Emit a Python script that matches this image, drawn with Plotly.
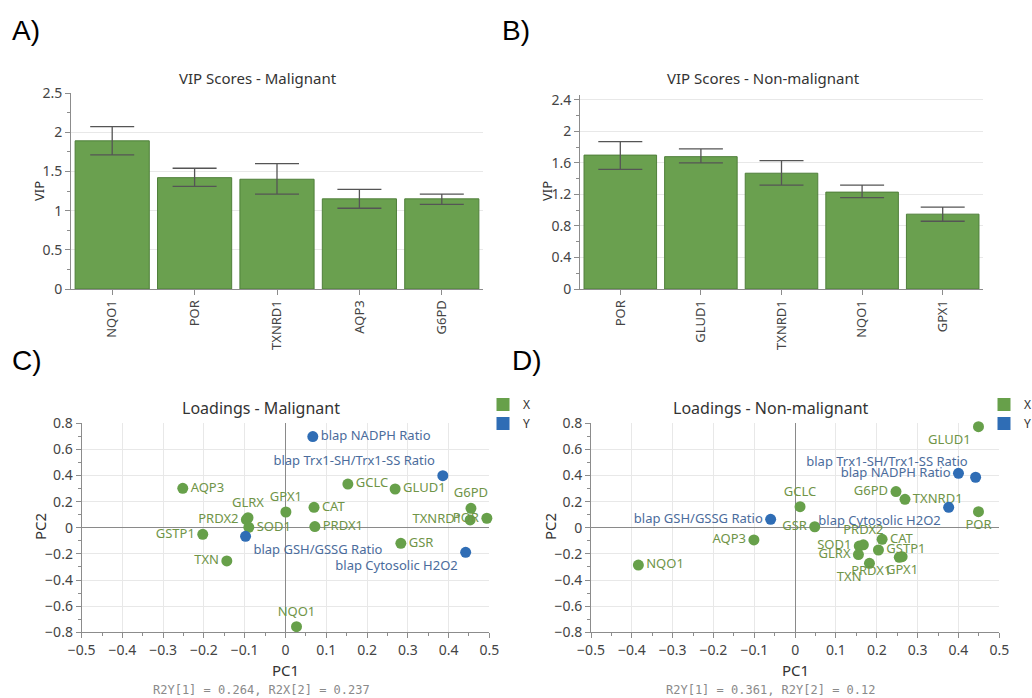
import plotly.graph_objects as go

# ---------------- DATA ----------------
vip_mal_genes = ["NQO1", "POR", "TXNRD1", "AQP3", "G6PD"]
vip_mal = [1.89, 1.42, 1.40, 1.15, 1.15]
vip_mal_hi = [2.07, 1.54, 1.60, 1.27, 1.21]
vip_mal_lo = [1.71, 1.31, 1.21, 1.03, 1.08]

vip_non_genes = ["POR", "GLUD1", "TXNRD1", "NQO1", "GPX1"]
vip_non = [1.70, 1.68, 1.47, 1.23, 0.95]
vip_non_hi = [1.87, 1.78, 1.63, 1.32, 1.04]
vip_non_lo = [1.52, 1.60, 1.32, 1.16, 0.86]

# Loadings - Malignant
cx_names = ["AQP3", "GSTP1", "TXN", "GLRX", "PRDX2", "SOD1", "GPX1", "CAT", "PRDX1",
            "GCLC", "GLUD1", "G6PD", "TXNRD1", "POR", "GSR", "NQO1"]
cx_pc1 = [-0.252, -0.203, -0.144, -0.092, -0.096, -0.090, 0.001, 0.070, 0.072,
          0.153, 0.269, 0.455, 0.453, 0.494, 0.283, 0.027]
cx_pc2 = [0.302, -0.050, -0.254, 0.077, 0.062, 0.004, 0.121, 0.157, 0.009,
          0.335, 0.297, 0.149, 0.060, 0.073, -0.119, -0.757]
cx_pos = ["middle right", "middle left", "middle left", "top center", "middle left", "middle right",
          "top center", "middle right", "middle right", "middle right", "middle right", "top center",
          "middle left", "middle left", "middle right", "top center"]
cy_names = ["blap NADPH Ratio", "blap Trx1-SH/Trx1-SS Ratio", "blap GSH/GSSG Ratio", "blap Cytosolic H2O2"]
cy_pc1 = [0.067, 0.386, -0.098, 0.442]
cy_pc2 = [0.698, 0.399, -0.065, -0.188]
cy_pos = ["middle right", "top left", "bottom right", "bottom left"]

# Loadings - Non-malignant
dx_names = ["NQO1", "AQP3", "GCLC", "GSR", "GLUD1", "G6PD", "TXNRD1", "POR", "CAT", "GSTP1",
            "GPX1", "PRDX1", "TXN", "SOD1", "GLRX", "PRDX2"]
dx_pc1 = [-0.384, -0.101, 0.012, 0.048, 0.449, 0.247, 0.269, 0.449, 0.213, 0.204,
          0.262, 0.255, 0.182, 0.157, 0.155, 0.167]
dx_pc2 = [-0.285, -0.093, 0.162, 0.008, 0.774, 0.277, 0.218, 0.123, -0.088, -0.170,
          -0.221, -0.226, -0.272, -0.140, -0.205, -0.130]
dx_pos = ["middle right", "middle left", "top center", "middle left", "bottom left", "middle left",
          "middle right", "bottom center", "middle right", "middle right", "bottom center",
          "bottom left", "bottom left", "middle left", "middle left", "top center"]
dy_names = ["blap GSH/GSSG Ratio", "blap NADPH Ratio", "blap Trx1-SH/Trx1-SS Ratio", "blap Cytosolic H2O2"]
dy_pc1 = [-0.060, 0.400, 0.442, 0.376]
dy_pc2 = [0.065, 0.417, 0.387, 0.157]
dy_pos = ["middle left", "middle left", "top left", "bottom left"]

stats_c = "R2Y[1] = 0.264, R2X[2] = 0.237"
stats_d = "R2Y[1] = 0.361, R2Y[2] = 0.12"

# ---------------- STYLE ----------------
W, H = 1032, 698
FONT = "Noto Sans"
BAR = "#6aa04f"
BAR_EDGE = "#4f7f3a"
GREEN = "#67a04a"
BLUE = "#2f6db5"
GREEN_TXT = "#6f9447"
BLUE_TXT = "#4b6c9c"
TICK = "#444444"
AX = "#8c8c8c"
GRID = "#e8e8e8"


def px(xp):
    return xp / W


def py(yp):
    return 1 - yp / H


fig = go.Figure()

# bar panels
fig.add_trace(go.Bar(
    x=vip_mal_genes, y=vip_mal, xaxis="x", yaxis="y",
    marker=dict(color=BAR, line=dict(color=BAR_EDGE, width=1)),
    error_y=dict(type="data", symmetric=False,
                 array=[h - v for h, v in zip(vip_mal_hi, vip_mal)],
                 arrayminus=[v - l for l, v in zip(vip_mal_lo, vip_mal)],
                 color="#555555", thickness=1.3, width=22),
    showlegend=False))
fig.add_trace(go.Bar(
    x=vip_non_genes, y=vip_non, xaxis="x2", yaxis="y2",
    marker=dict(color=BAR, line=dict(color=BAR_EDGE, width=1)),
    error_y=dict(type="data", symmetric=False,
                 array=[h - v for h, v in zip(vip_non_hi, vip_non)],
                 arrayminus=[v - l for l, v in zip(vip_non_lo, vip_non)],
                 color="#555555", thickness=1.3, width=22),
    showlegend=False))


# scatter panels
def add_sc(xs, ys, names, pos, color, tcolor, xa, ya):
    fig.add_trace(go.Scatter(
        x=xs, y=ys, text=names, mode="markers+text", textposition=pos,
        xaxis=xa, yaxis=ya, cliponaxis=False,
        marker=dict(color=color, size=11, line=dict(width=0)),
        textfont=dict(family=FONT, size=13, color=tcolor),
        showlegend=False))


add_sc(cx_pc1, cx_pc2, cx_names, cx_pos, GREEN, GREEN_TXT, "x3", "y3")
add_sc(cy_pc1, cy_pc2, cy_names, cy_pos, BLUE, BLUE_TXT, "x3", "y3")
add_sc(dx_pc1, dx_pc2, dx_names, dx_pos, GREEN, GREEN_TXT, "x4", "y4")
add_sc(dy_pc1, dy_pc2, dy_names, dy_pos, BLUE, BLUE_TXT, "x4", "y4")

# legend entries (squares)
for lg, xa, ya in [("legend", "x3", "y3"), ("legend2", "x4", "y4")]:
    for nm, col in [("X", GREEN), ("Y", BLUE)]:
        fig.add_trace(go.Scatter(x=[None], y=[None], mode="markers", name=nm,
                                 marker=dict(symbol="square", size=13, color=col),
                                 xaxis=xa, yaxis=ya, legend=lg, showlegend=True))

bar_y_dom = [py(289), py(93)]
bar_y_dom2 = [py(289), py(95)]
sc_y_dom = [py(632.3), py(423.3)]

common_ax = dict(showline=True, linecolor=AX, linewidth=1, ticks="outside", tickcolor=AX,
                 ticklen=5, tickfont=dict(family=FONT, size=14, color=TICK), zeroline=False,
                 automargin=False)

zl = {"zeroline": True, "zerolinecolor": "#8a8a8a", "zerolinewidth": 1}

leg_common = dict(xanchor="left", yanchor="top", bgcolor="rgba(0,0,0,0)",
                  font=dict(family=FONT, size=12, color="#333"), itemwidth=30, tracegroupgap=0,
                  itemsizing="trace")

layout = dict(
    width=W, height=H, margin=dict(l=0, r=0, t=0, b=0, autoexpand=False),
    paper_bgcolor="white", plot_bgcolor="white",
    bargap=0.1, font=dict(family=FONT, color=TICK),
    xaxis=dict(domain=[px(71), px(483)], anchor="y", **{**common_ax,
               "tickangle": -90, "tickfont": dict(family=FONT, size=13, color=TICK), "showgrid": False}),
    yaxis=dict(domain=bar_y_dom, anchor="x", range=[0, 2.5], dtick=0.5, showgrid=True, gridcolor=GRID,
               minor=dict(dtick=0.25, ticks="outside", ticklen=3, tickcolor=AX, showgrid=False),
               **common_ax),
    xaxis2=dict(domain=[px(580), px(983)], anchor="y2", **{**common_ax,
                "tickangle": -90, "tickfont": dict(family=FONT, size=13, color=TICK), "showgrid": False}),
    yaxis2=dict(domain=bar_y_dom2, anchor="x2", range=[0, 2.463], dtick=0.4, showgrid=True, gridcolor=GRID,
                minor=dict(dtick=0.2, ticks="outside", ticklen=3, tickcolor=AX, showgrid=False),
                **common_ax),
    xaxis3=dict(domain=[px(81.7), px(489.3)], anchor="y3", range=[-0.5, 0.5], dtick=0.1,
                showgrid=True, gridcolor=GRID,
                minor=dict(dtick=0.05, ticks="outside", ticklen=3, tickcolor=AX, showgrid=False),
                **{**common_ax, **zl}),
    yaxis3=dict(domain=sc_y_dom, anchor="x3", range=[-0.8, 0.8], dtick=0.2,
                showgrid=True, gridcolor=GRID,
                minor=dict(dtick=0.1, ticks="outside", ticklen=3, tickcolor=AX, showgrid=False),
                **{**common_ax, **zl}),
    xaxis4=dict(domain=[px(591), px(999.3)], anchor="y4", range=[-0.5, 0.5], dtick=0.1,
                showgrid=True, gridcolor=GRID,
                minor=dict(dtick=0.05, ticks="outside", ticklen=3, tickcolor=AX, showgrid=False),
                **{**common_ax, **zl}),
    yaxis4=dict(domain=sc_y_dom, anchor="x4", range=[-0.8, 0.8], dtick=0.2,
                showgrid=True, gridcolor=GRID,
                minor=dict(dtick=0.1, ticks="outside", ticklen=3, tickcolor=AX, showgrid=False),
                **{**common_ax, **zl}),
    legend=dict(x=px(483), y=py(390), **leg_common),
    legend2=dict(x=px(984), y=py(390), **leg_common),
)

ann = []


def a(text, x, y, size, color="#333333", family=FONT, angle=0, xanchor="center"):
    ann.append(dict(text=text, x=px(x), y=py(y), xref="paper", yref="paper", showarrow=False,
                    xanchor=xanchor, yanchor="middle", textangle=angle,
                    font=dict(family=family, size=size, color=color)))


a("A)", 10, 30, 28, "#000000", "Liberation Sans", xanchor="left")
a("B)", 500, 30, 28, "#000000", "Liberation Sans", xanchor="left")
a("C)", 10, 360, 28, "#000000", "Liberation Sans", xanchor="left")
a("D)", 510, 360, 28, "#000000", "Liberation Sans", xanchor="left")
a("VIP Scores - Malignant", 258, 78, 15)
a("VIP Scores - Non-malignant", 763, 78, 15)
a("Loadings - Malignant", 261, 408, 16)
a("Loadings - Non-malignant", 771, 408, 16)
a("VIP", 39, 191, 13, angle=-90)
a("VIP", 547, 191, 13, angle=-90)
a("PC2", 40, 527, 15, angle=-90)
a("PC2", 550, 527, 15, angle=-90)
a("PC1", 285, 670, 15)
a("PC1", 795, 670, 15)
a(stats_c, 261, 690, 12, "#8a8a8a", "DejaVu Sans Mono")
a(stats_d, 771, 690, 12, "#8a8a8a", "DejaVu Sans Mono")

layout["annotations"] = ann
fig.update_layout(**layout)
fig.write_html("out.html")
